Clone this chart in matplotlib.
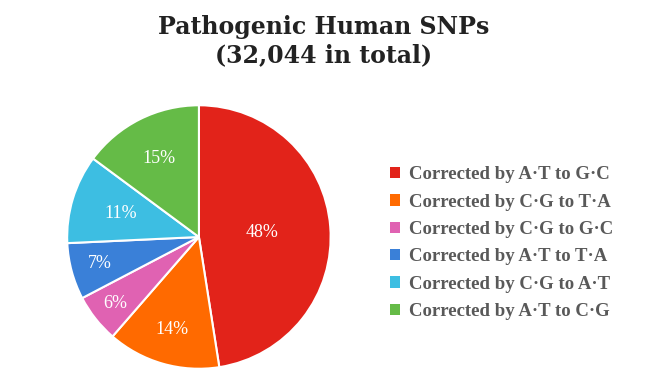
import matplotlib
matplotlib.use("Agg")
import matplotlib.pyplot as plt
import numpy as np

categories = ["Corrected by A·T to G·C", "Corrected by C·G to T·A", "Corrected by C·G to G·C",
              "Corrected by A·T to T·A", "Corrected by C·G to A·T", "Corrected by A·T to C·G"]
values = [48, 14, 6, 7, 11, 15]
colors = ["#E2231A", "#FF6A00", "#E062B2", "#3A80D8", "#3DBEE2", "#65BB47"]
label_radius = [0.48, 0.73, 0.81, 0.78, 0.62, 0.67]

fig = plt.figure(figsize=(6.72, 3.78), dpi=100)
fig.patch.set_facecolor("white")
ax = fig.add_axes([0.098, 0.021, 0.396, 0.704])
wedges, texts, autotexts = ax.pie(values, colors=colors, startangle=90, counterclock=False,
                                  autopct=lambda p: f"{p:.0f}%",
                                  wedgeprops=dict(edgecolor="white", linewidth=1.5),
                                  textprops=dict(color="white", fontsize=13, family="Liberation Serif"))
for w, t, r in zip(wedges, autotexts, label_radius):
    ang = np.deg2rad((w.theta1 + w.theta2) / 2)
    t.set_position((r * np.cos(ang), r * np.sin(ang)))
ax.set_xlim(-1.01, 1.01)
ax.set_ylim(-1.01, 1.01)
ax.set_aspect("equal")

fig.text(0.482, 0.892, "Pathogenic Human SNPs\n(32,044 in total)", ha="center", va="center",
         fontsize=17, fontweight="bold", family="DejaVu Serif", color="#222222", linespacing=1.2)

leg = fig.legend(wedges, categories, loc="center left", bbox_to_anchor=(0.555, 0.357),
                 frameon=False, handlelength=0.55, handleheight=0.55, handletextpad=0.45,
                 labelspacing=0.55,
                 prop=dict(family="Liberation Serif", weight="bold", size=13.5))
for t in leg.get_texts():
    t.set_color("#595959")
for h in leg.legend_handles:
    h.set_edgecolor("none")

fig.savefig("out.png", dpi=100)
